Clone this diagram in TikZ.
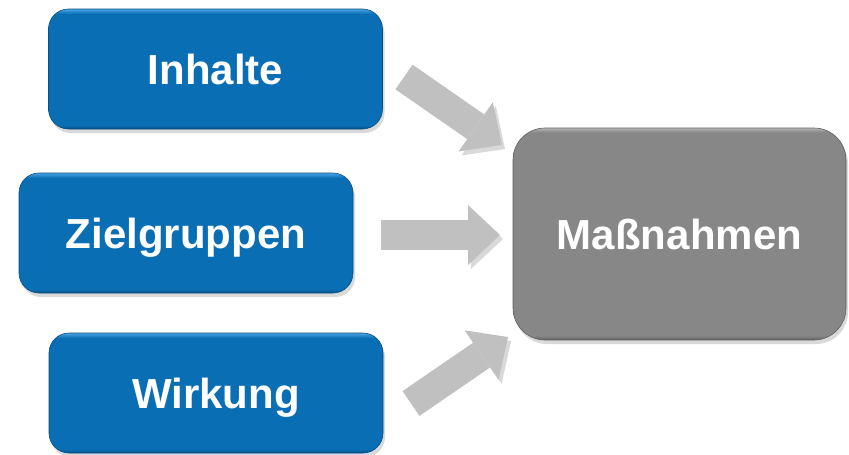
\documentclass[tikz,border=0pt]{standalone}
\usepackage{fontspec}
\setmainfont{Liberation Sans}
\usetikzlibrary{arrows.meta, shadows}

\definecolor{boxblue}{RGB}{10,110,180}
\definecolor{boxbluelight}{RGB}{75,165,230}
\definecolor{boxbluedark}{RGB}{6,78,130}
\definecolor{boxgray}{RGB}{135,135,135}
\definecolor{boxgraylight}{RGB}{180,180,180}
\definecolor{boxgraydark}{RGB}{95,95,95}
\definecolor{arrowgray}{RGB}{192,192,192}

\pgfdeclareverticalshading{bluebevel}{100bp}{color(0bp)=(boxbluedark); color(25bp)=(boxbluedark); color(26.5bp)=(boxblue); color(73bp)=(boxblue); color(75bp)=(boxbluelight); color(100bp)=(boxbluelight)}
\pgfdeclareverticalshading{graybevel}{100bp}{color(0bp)=(boxgraydark); color(25bp)=(boxgraydark); color(26bp)=(boxgray); color(74bp)=(boxgray); color(75bp)=(boxgraylight); color(100bp)=(boxgraylight)}

\begin{document}
\begin{tikzpicture}[x=1pt, y=-1pt,
    topic/.style={rounded corners=20pt, shading=bluebevel, draw=boxbluedark, line width=0.6pt,
        text=white, font=\fontsize{42}{48}\selectfont\bfseries, text depth=0pt,
        minimum width=334pt, minimum height=120pt,
        drop shadow={shadow xshift=2pt, shadow yshift=-4pt, opacity=.3}},
    result/.style={rounded corners=32pt, shading=graybevel, draw=boxgraydark, line width=0.6pt,
        text=white, font=\fontsize{42}{48}\selectfont\bfseries, text depth=0pt,
        minimum width=333pt, minimum height=212pt,
        drop shadow={shadow xshift=2pt, shadow yshift=-4pt, opacity=.3}},
    flow/.style={line width=30pt, draw=arrowgray, -{Triangle[length=32pt,width=60pt,line width=0pt]},
        preaction={draw=black, opacity=.15, transform canvas={shift={(3pt,-4pt)}}}}]

    % fixed frame
    \useasboundingbox (0,0) rectangle (849,455);

    % Eingangsgroessen
    \node[topic] (inhalte) at (215.5,69) {Inhalte};
    \node[topic] (zielgruppen) at (186,233) {Zielgruppen};
    \node[topic] (wirkung) at (216,393) {Wirkung};

    % Ergebnis
    \node[result] (massnahmen) at (679.5,234) {Maßnahmen};

    % Pfeile
    \coordinate (inhalte-aus) at (404,77);
    \coordinate (inhalte-ein) at (502,145);
    \coordinate (ziel-aus) at (381,235);
    \coordinate (ziel-ein) at (500,235);
    \coordinate (wirkung-aus) at (411,403.5);
    \coordinate (wirkung-ein) at (508,337);
    \draw[flow] (inhalte-aus) -- (inhalte-ein);
    \draw[flow] (ziel-aus) -- (ziel-ein);
    \draw[flow] (wirkung-aus) -- (wirkung-ein);
\end{tikzpicture}
\end{document}
